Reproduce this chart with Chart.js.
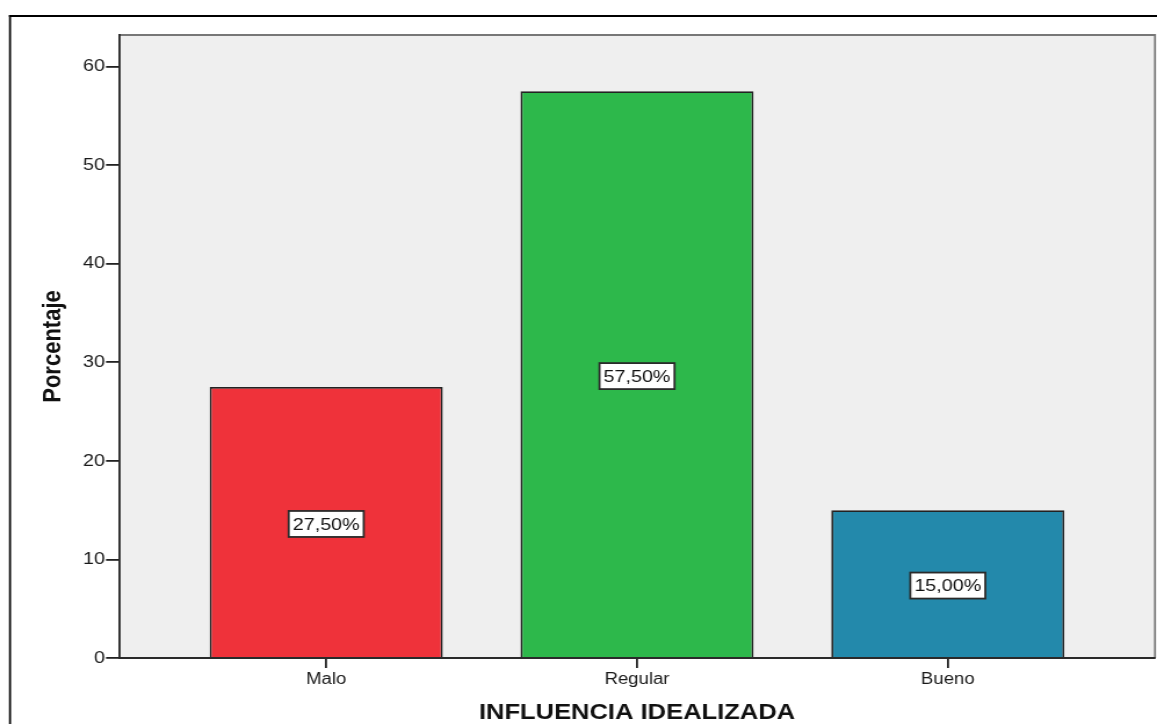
<!DOCTYPE html>
<html>
<head>
<meta charset="utf-8">
<script src="https://cdn.jsdelivr.net/npm/chart.js@4.4.0/dist/chart.umd.min.js"></script>
<style>
  html, body { margin: 0; padding: 0; background: #fff; overflow: hidden; }
</style>
</head>
<body>
<canvas id="chart" width="997" height="724" style="width:1157px;height:724px;display:block"></canvas>
<script>
const categories = ['Malo', 'Regular', 'Bueno'];
const percentages = [27.5, 57.5, 15.0];
const barColors = ['#ef323a', '#2db84b', '#2389ab'];
const yTicks = [0, 10, 20, 30, 40, 50, 60];

// the canvas is drawn narrower and widened by CSS, so x sizes go through sx()
const STRETCH = 1157 / 997;
const sx = px => px / STRETCH;
const FONT = "'Liberation Sans', Arial, sans-serif";

// white page, outer frame, grey plot panel with its top/right edge
const plotFrame = {
  id: 'plotFrame',
  beforeDraw(chart) {
    const {ctx, chartArea: a, width, height} = chart;
    ctx.save();
    ctx.fillStyle = '#fff';
    ctx.fillRect(0, 0, width, height);
    ctx.fillStyle = '#000';
    ctx.fillRect(sx(9), 15, sx(2), height);
    ctx.fillRect(sx(9), 15, width, 2);
    ctx.fillStyle = '#efefef';
    ctx.fillRect(a.left, a.top, a.right - a.left, a.bottom - a.top);
    ctx.fillStyle = '#777';
    ctx.fillRect(a.left, a.top - 1, a.right - a.left, 2);
    ctx.fillRect(a.right - sx(1), a.top - 1, sx(2), a.bottom - a.top + 1);
    ctx.restore();
  }
};

// boxed percentage in the middle of each bar
const valueBoxes = {
  id: 'valueBoxes',
  afterDatasetsDraw(chart) {
    const {ctx} = chart;
    const yScale = chart.scales.y;
    ctx.save();
    ctx.font = `17px ${FONT}`;
    ctx.textAlign = 'center';
    ctx.textBaseline = 'middle';
    chart.getDatasetMeta(0).data.forEach((bar, i) => {
      const v = percentages[i];
      const text = v.toFixed(2).replace('.', ',') + '%';
      const cy = yScale.getPixelForValue(v / 2) + 1.5;
      const w = ctx.measureText(text).width + 7;
      const h = 26;
      ctx.fillStyle = '#fff';
      ctx.fillRect(bar.x - w / 2, cy - h / 2, w, h);
      ctx.strokeStyle = '#2a2a2a';
      ctx.lineWidth = 1.8;
      ctx.strokeRect(bar.x - w / 2, cy - h / 2, w, h);
      ctx.fillStyle = '#111';
      ctx.fillText(text, bar.x, cy + 1);
    });
    ctx.restore();
  }
};

new Chart(document.getElementById('chart'), {
  type: 'bar',
  data: {
    datasets: [{
      data: percentages.map((v, i) => ({x: i + 1, y: v})),
      backgroundColor: barColors,
      borderColor: '#222',
      borderWidth: 1.8,
      barPercentage: 0.75,
      categoryPercentage: 1
    }]
  },
  options: {
    responsive: false,
    devicePixelRatio: 1,
    animation: false,
    layout: {padding: {top: 35, right: 997 - sx(1155), left: 0, bottom: 0}},
    plugins: {legend: {display: false}, tooltip: {enabled: false}},
    scales: {
      x: {
        type: 'linear',
        min: 1 / 3,
        max: 11 / 3,
        offset: false,
        afterFit: s => { s.height = 66; },
        afterBuildTicks: s => { s.ticks = categories.map((c, i) => ({value: i + 1})); },
        grid: {offset: false, drawOnChartArea: false, tickLength: 10, color: '#222', lineWidth: 1.8},
        border: {display: true, color: '#2a2a2a', width: 2},
        ticks: {
          callback: v => categories[Math.round(v) - 1],
          color: '#1a1a1a',
          font: {family: FONT, size: 16},
          padding: 2,
          maxRotation: 0,
          autoSkip: false
        },
        title: {
          display: true,
          text: 'INFLUENCIA IDEALIZADA',
          color: '#111',
          font: {family: FONT, size: 22, weight: 'bold', lineHeight: 1},
          padding: 0
        }
      },
      y: {
        min: 0,
        max: 63.2,
        afterFit: s => { s.width = sx(119); },
        afterBuildTicks: s => { s.ticks = yTicks.map(v => ({value: v})); },
        grid: {drawOnChartArea: false, tickLength: sx(13), color: '#222', lineWidth: 1.8},
        border: {display: true, color: '#2a2a2a', width: sx(2.2)},
        ticks: {color: '#1a1a1a', font: {family: FONT, size: 17}, padding: sx(1)},
        title: {
          display: true,
          text: 'Porcentaje',
          color: '#111',
          font: {family: FONT, size: 22, weight: 'bold', lineHeight: 1},
          padding: {top: 35, bottom: 0}
        }
      }
    }
  },
  plugins: [plotFrame, valueBoxes]
});
</script>
</body>
</html>
